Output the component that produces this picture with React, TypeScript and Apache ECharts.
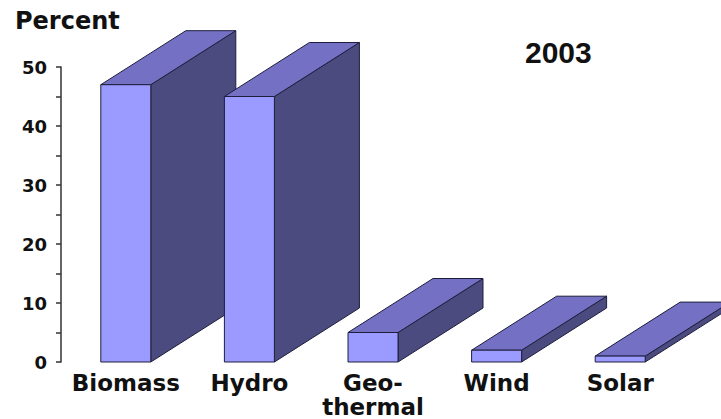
import React, { useEffect, useRef } from "react";
import * as echarts from "echarts";

const categories = ["Biomass", "Hydro", "Geo-\nthermal", "Wind", "Solar"];
const percentValues = [47, 45, 5, 2, 1];
const yTicks = { min: 0, max: 50, interval: 10 };
const yAxisTitle = "Percent";
const yearLabel = "2003";

const FRONT = "#9b9bff";
const TOP = "#7470c4";
const SIDE = "#4b4b80";
const EDGE = "#1e1e3c";
const BAR_W = 50;
const DX = 85;
const DY = -54;

export default function App() {
  const ref = useRef<HTMLDivElement>(null);
  useEffect(() => {
    if (!ref.current) return;
    const chart = echarts.init(ref.current, undefined, { renderer: "svg" });
    const edge = { stroke: EDGE, lineWidth: 1 };
    chart.setOption({
      animation: false,
      backgroundColor: "#ffffff",
      grid: { left: 64, right: 39, top: 67, bottom: 57, containLabel: false },
      xAxis: {
        type: "category",
        data: categories,
        axisLine: { show: false },
        axisTick: { show: false },
        axisLabel: {
          interval: 0,
          margin: 9,
          color: "#111",
          fontFamily: "DejaVu Sans",
          fontWeight: "bold",
          fontSize: 23,
          lineHeight: 24,
        },
      },
      yAxis: {
        type: "value",
        min: yTicks.min,
        max: yTicks.max,
        interval: yTicks.interval,
        offset: 3,
        splitLine: { show: false },
        axisLine: { show: true, lineStyle: { color: "#333", width: 1.5 } },
        axisTick: { show: true, inside: false, length: 5, lineStyle: { color: "#333", width: 1.5 } },
        minorTick: { show: true, splitNumber: 2, length: 5, lineStyle: { color: "#333", width: 1.5 } },
        axisLabel: {
          margin: 14,
          color: "#111",
          fontFamily: "DejaVu Sans",
          fontWeight: "bold",
          fontSize: 18,
        },
      },
      graphic: [
        {
          type: "text",
          left: 15,
          top: 9,
          style: {
            text: yAxisTitle,
            fill: "#111",
            font: "bold 24px 'DejaVu Sans'",
          },
        },
        {
          type: "text",
          left: 525,
          top: 37,
          style: {
            text: yearLabel,
            fill: "#111",
            font: "bold 30px 'Liberation Sans', Arial",
          },
        },
      ],
      series: [
        {
          type: "custom",
          clip: false,
          data: percentValues.map((v, i) => [i, v]),
          encode: { x: 0, y: 1 },
          renderItem: (params: any, api: any) => {
            const idx = api.value(0);
            const v = api.value(1);
            const top = api.coord([idx, v]);
            const base = api.coord([idx, 0]);
            const x0 = top[0] - BAR_W / 2;
            const x1 = top[0] + BAR_W / 2;
            const yT = top[1];
            const yB = base[1];
            return {
              type: "group",
              children: [
                {
                  type: "polygon",
                  shape: { points: [[x1, yB], [x1 + DX, yB + DY], [x1 + DX, yT + DY], [x1, yT]] },
                  style: { fill: SIDE, ...edge },
                },
                {
                  type: "polygon",
                  shape: { points: [[x0, yT], [x1, yT], [x1 + DX, yT + DY], [x0 + DX, yT + DY]] },
                  style: { fill: TOP, ...edge },
                },
                {
                  type: "rect",
                  shape: { x: x0, y: yT, width: BAR_W, height: yB - yT },
                  style: { fill: FRONT, ...edge },
                },
              ],
            };
          },
        },
      ],
    });
    return () => chart.dispose();
  }, []);
  return <div ref={ref} style={{ width: 721, height: 419, position: "absolute", left: 0, top: 0 }} />;
}
